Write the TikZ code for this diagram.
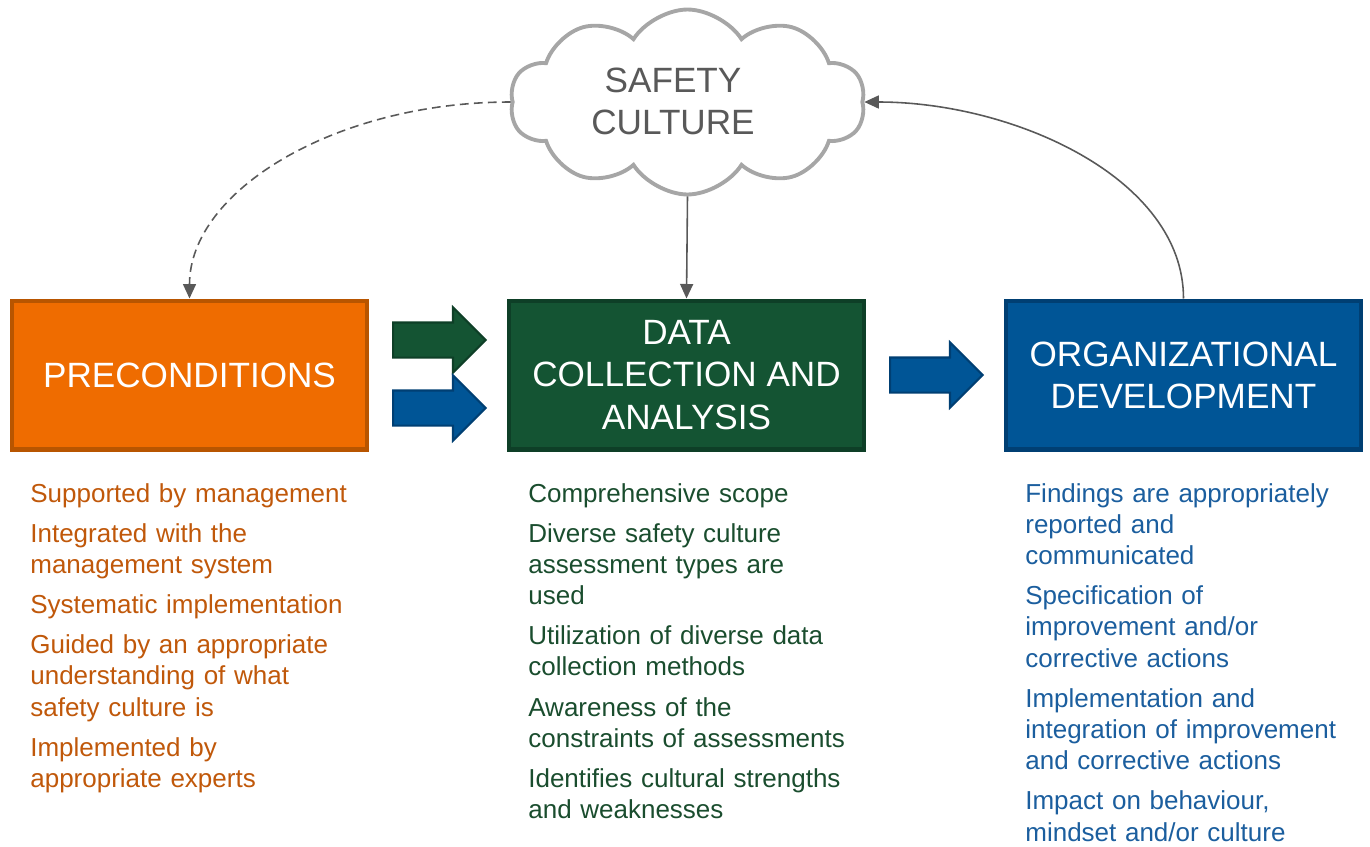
\documentclass[tikz,border=0pt]{standalone}
\usepackage{fontspec}
\setmainfont{Liberation Sans}
\usetikzlibrary{shapes.symbols,shapes.arrows,arrows.meta}

\definecolor{preFill}{HTML}{EF6C00}
\definecolor{preLine}{HTML}{B85500}
\definecolor{preText}{HTML}{C0580A}
\definecolor{dataFill}{HTML}{145433}
\definecolor{dataLine}{HTML}{0E3F27}
\definecolor{dataText}{HTML}{1A4D2E}
\definecolor{orgFill}{HTML}{005596}
\definecolor{orgLine}{HTML}{003F73}
\definecolor{orgText}{HTML}{1B5E9E}
\definecolor{cloudLine}{HTML}{A6A6A6}
\definecolor{linkGray}{HTML}{595959}

\tikzset{
    stagebox/.style={rectangle, draw=#1Line, fill=#1Fill, line width=2.3pt,
        minimum width=7.1cm, minimum height=2.98cm, align=center,
        text=white, font=\fontsize{20}{24}\selectfont},
    itemlist/.style={anchor=base west, inner sep=0pt, text width=8cm, align=left,
        text=#1Text, font=\fontsize{14.8}{17.8}\selectfont},
    blockarrow/.style={single arrow, draw=#1Line, fill=#1Fill, line width=1.2pt,
        inner xsep=0pt, inner ysep=0.33cm, single arrow head extend=0.3cm,
        minimum height=1.85cm, anchor=tail},
    link/.style={draw=linkGray, line width=0.9pt,
        -{Triangle[length=0.29cm,width=0.26cm]}}
}

\begin{document}
\begin{tikzpicture}[x=0.02cm, y=-0.02cm]
        \useasboundingbox (0,0) rectangle (1370,846);

        \node[cloud, cloud puffs=10, cloud puff arc=115, cloud ignores aspect,
            draw=cloudLine, fill=white, line width=2.2pt,
            minimum width=7.1cm, minimum height=3.7cm] (culture) at (687.5,102) {};
        \node[align=center, text=linkGray, font=\fontsize{20}{24}\selectfont]
            (cultureText) at (673,101) {SAFETY\\CULTURE};

        \node[stagebox=pre] (pre) at (189.5,375) {PRECONDITIONS};
        \node[stagebox=data] (data) at (686.5,375) {DATA\\COLLECTION AND\\ANALYSIS};
        \node[stagebox=org] (org) at (1183.5,375) {ORGANIZATIONAL\\DEVELOPMENT};

        \node[blockarrow=data] (preToDataA) at (392,340) {};
        \node[blockarrow=org] (preToDataB) at (392,408) {};
        \node[blockarrow=org] (dataToOrg) at (889,375) {};

        \draw[link, dashed, dash pattern=on 5pt off 3pt] (culture.west)
            .. controls +(-175,0) and +(0,-108) .. (pre.north);
        \draw[link] (culture.south) -- (data.north);
        \draw[link] (org.north) .. controls +(0,-120) and +(150,0) .. (culture.east);

        \node[itemlist=pre] (preItems) at (30,502) {Supported by management\\[5pt]
            Integrated with the\\management system\\[5pt]
            Systematic implementation\\[5pt]
            Guided by an appropriate\\understanding of what\\safety culture is\\[5pt]
            Implemented by\\appropriate experts};
        \node[itemlist=data] (dataItems) at (528,502) {Comprehensive scope\\[5pt]
            Diverse safety culture\\assessment types are\\used\\[5pt]
            Utilization of diverse data\\collection methods\\[5pt]
            Awareness of the\\constraints of assessments\\[5pt]
            Identifies cultural strengths\\and weaknesses};
        \node[itemlist=org] (orgItems) at (1025,502) {Findings are appropriately\\reported and\\communicated\\[5pt]
            Specification of\\improvement and/or\\corrective actions\\[5pt]
            Implementation and\\integration of improvement\\and corrective actions\\[5pt]
            Impact on behaviour,\\mindset and/or culture};
\end{tikzpicture}
\end{document}
